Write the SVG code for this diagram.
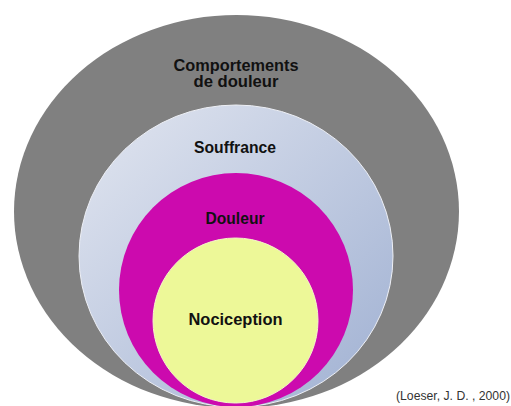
<svg xmlns="http://www.w3.org/2000/svg" width="511" height="406" viewBox="0 0 511 406">
<style>
.lbl{font-family:"Liberation Sans",Arial,sans-serif;font-weight:bold;font-size:16px;fill:#111;text-anchor:middle}
.cite{font-family:"Liberation Sans",Arial,sans-serif;font-size:12px;fill:#333;text-anchor:end}
</style>
<defs>
<linearGradient id="g" x1="0" y1="0" x2="1" y2="1">
<stop offset="0" stop-color="#e2e6f0"/>
<stop offset="1" stop-color="#9fb0d2"/>
</linearGradient>
</defs>
<rect width="511" height="406" fill="#fff"/>
<g id="comportements">
<ellipse cx="236.5" cy="211.5" rx="222.5" ry="196.5" fill="#808080"/>
<text class="lbl" x="236" y="71" textLength="125" lengthAdjust="spacingAndGlyphs">Comportements</text>
<text class="lbl" x="236" y="87" textLength="85" lengthAdjust="spacingAndGlyphs">de douleur</text>
</g>
<g id="souffrance">
<ellipse cx="236" cy="256" rx="157" ry="151" fill="url(#g)" stroke="#eef0f6" stroke-width="1"/>
<text class="lbl" x="235" y="153" textLength="82" lengthAdjust="spacingAndGlyphs">Souffrance</text>
</g>
<g id="douleur">
<ellipse cx="236" cy="290" rx="117" ry="117" fill="#cc0aae"/>
<text class="lbl" x="235" y="224" textLength="59" lengthAdjust="spacingAndGlyphs">Douleur</text>
</g>
<g id="nociception">
<ellipse cx="235.5" cy="320.5" rx="82.5" ry="82.5" fill="#edf898" stroke="#f4f8c8" stroke-width="1"/>
<text class="lbl" x="235.5" y="325" textLength="94" lengthAdjust="spacingAndGlyphs">Nociception</text>
</g>
<text class="cite" x="510" y="400" textLength="114" lengthAdjust="spacingAndGlyphs">(Loeser, J. D. , 2000)</text>
</svg>
